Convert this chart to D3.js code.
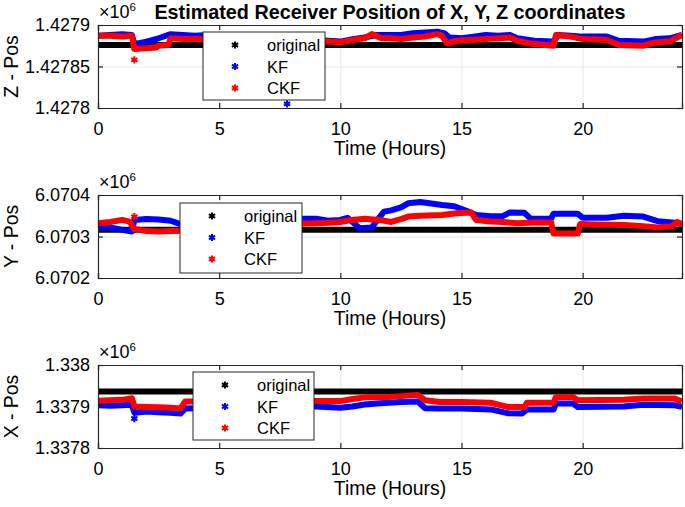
<!DOCTYPE html>
<html>
<head>
<meta charset="utf-8">
<script src="https://cdn.jsdelivr.net/npm/d3@7"></script>
<style>
body { margin: 0; background: #fff; }
text { font-family: "Liberation Sans", Arial, sans-serif; fill: #000; }
</style>
</head>
<body>
<script>
var WIDTH = 685, HEIGHT = 507;

var xTicks = [0, 5, 10, 15, 20];
var seriesNames = ['original', 'KF', 'CKF'];
var seriesColors = ['#000000', '#0000ff', '#ff0000'];

// Z panel (metres)
var zTicks = [1427800, 1427850, 1427900];
var zTickLabels = ['1.4278', '1.42785', '1.4279'];
var zOriginal = [[0, 1427876], [24.1, 1427876]];
var zKF = [[0,1427887],[0.5,1427888],[1.0,1427889],[1.4,1427888],[1.5,1427877],[2.0,1427880],[2.5,1427884],[3.0,1427889],[3.5,1427888],[4.0,1427887],[4.5,1427888],[5,1427886],[6,1427885],[7,1427884],[8,1427883],[9,1427882],[9.5,1427881],[10,1427880],[10.5,1427883],[11,1427885],[11.5,1427888],[12,1427888],[12.5,1427888],[13,1427890],[13.5,1427891],[14,1427892],[14.3,1427890],[14.5,1427885],[15,1427884],[15.5,1427886],[16,1427888],[16.5,1427887],[17,1427888],[17.3,1427884],[18,1427881],[18.8,1427880],[19,1427888],[19.5,1427887],[20,1427886],[21,1427886],[21.5,1427881],[22.5,1427880],[23,1427883],[23.6,1427884],[24.1,1427888]];
var zCKF = [[0,1427887],[0.5,1427887],[1.0,1427886],[1.4,1427887],[1.5,1427871],[2.0,1427872],[2.4,1427873],[2.5,1427875],[2.9,1427876],[3.0,1427884],[3.5,1427883],[4.0,1427883],[5,1427882],[6,1427881],[7,1427880],[8,1427880],[9,1427880],[9.5,1427880],[10,1427879],[10.5,1427882],[11,1427884],[11.3,1427889],[11.7,1427884],[12,1427884],[12.5,1427883],[13,1427885],[13.5,1427886],[14,1427889],[14.2,1427887],[14.4,1427878],[14.8,1427881],[15.5,1427882],[16,1427883],[16.6,1427884],[17,1427885],[17.3,1427881],[18,1427877],[18.8,1427875],[18.9,1427888],[19.5,1427886],[20,1427883],[21,1427882],[21.5,1427876],[22.5,1427875],[23,1427879],[23.6,1427880],[24.1,1427888]];
var zKFOut = [[7.8, 1427805]];
var zCKFOut = [[1.5, 1427858]];

// Y panel
var yTicks = [6070200, 6070300, 6070400];
var yTickLabels = ['6.0702', '6.0703', '6.0704'];
var yOriginal = [[0, 6070316], [24.1, 6070316]];
var yKF = [[0,6070320],[0.5,6070322],[1.0,6070316],[1.4,6070312],[1.5,6070340],[2.0,6070342],[2.5,6070341],[3.0,6070338],[3.4,6070330],[4,6070325],[5,6070322],[6,6070325],[7,6070330],[8,6070338],[8.5,6070343],[9,6070343],[9.5,6070338],[10,6070340],[10.3,6070345],[10.8,6070320],[11.3,6070322],[11.6,6070345],[11.8,6070360],[12.1,6070363],[12.5,6070370],[12.8,6070380],[13.3,6070383],[14.2,6070376],[14.7,6070373],[15.2,6070362],[15.6,6070352],[16.2,6070349],[16.7,6070349],[17.0,6070358],[17.6,6070357],[17.85,6070343],[18.7,6070343],[18.8,6070355],[19.8,6070355],[20.0,6070345],[21.0,6070345],[21.7,6070350],[22.5,6070348],[23.1,6070337],[23.8,6070333],[24.1,6070330]];
var yCKF = [[0,6070332],[0.5,6070335],[1.0,6070340],[1.3,6070336],[1.5,6070318],[2,6070313],[2.5,6070312],[3,6070313],[3.5,6070314],[4,6070316],[5,6070320],[6,6070324],[7,6070328],[8,6070331],[9,6070332],[9.5,6070333],[10,6070335],[10.5,6070340],[11,6070343],[11.6,6070340],[12.1,6070335],[12.5,6070342],[12.8,6070348],[13.3,6070350],[14.2,6070352],[14.8,6070356],[15.4,6070358],[15.6,6070340],[16.2,6070336],[16.7,6070335],[17.3,6070332],[18,6070334],[18.7,6070334],[18.8,6070307],[19.8,6070307],[19.9,6070330],[20.5,6070329],[21.7,6070328],[22.5,6070325],[23.1,6070322],[23.7,6070325],[23.9,6070335],[24.1,6070330]];
var yKFOut = [];
var yCKFOut = [[1.5, 6070348]];

// X panel
var xPosTicks = [1337800, 1337900, 1338000];
var xPosTickLabels = ['1.3378', '1.3379', '1.338'];
var xOriginal = [[0, 1337936], [24.1, 1337936]];
var xKF = [[0,1337903],[0.5,1337902],[1.0,1337903],[1.4,1337904],[1.5,1337885],[2,1337888],[2.5,1337886],[3,1337885],[3.4,1337883],[3.6,1337895],[4,1337896],[5,1337897],[6,1337898],[7,1337899],[8,1337900],[9,1337900],[10,1337897],[10.5,1337900],[11,1337905],[11.5,1337907],[12,1337909],[12.5,1337911],[13.2,1337912],[13.5,1337896],[14.1,1337895],[15,1337895],[16.2,1337893],[16.9,1337884],[17.5,1337883],[17.7,1337893],[18.8,1337893],[18.9,1337907],[19.6,1337907],[19.8,1337899],[21.7,1337900],[22.5,1337904],[23.8,1337903],[24.1,1337899]];
var xCKF = [[0,1337914],[0.5,1337915],[1,1337916],[1.4,1337920],[1.5,1337900],[2,1337899],[2.5,1337898],[3,1337897],[3.4,1337895],[3.6,1337912],[4,1337912],[5,1337912],[6,1337913],[7,1337913],[8,1337913],[9,1337913],[10,1337913],[10.5,1337918],[11,1337922],[12,1337923],[12.5,1337925],[13.2,1337928],[13.5,1337915],[14.1,1337911],[15,1337911],[16.2,1337909],[16.9,1337899],[17.6,1337899],[17.7,1337909],[18.8,1337909],[18.9,1337923],[19.6,1337923],[19.8,1337915],[21.7,1337916],[22.5,1337919],[23.8,1337919],[24.1,1337912]];
var xKFOut = [[1.5, 1337871]];
var xCKFOut = [];

var panels = [
    { top: 25, label: 'Z - Pos', ticks: zTicks, tickLabels: zTickLabels,
      series: [zOriginal, zKF, zCKF], outliers: [[], zKFOut, zCKFOut], legend: [203, 32, 122, 68] },
    { top: 195, label: 'Y - Pos', ticks: yTicks, tickLabels: yTickLabels,
      series: [yOriginal, yKF, yCKF], outliers: [[], yKFOut, yCKFOut], legend: [180, 203, 122, 70] },
    { top: 365, label: 'X - Pos', ticks: xPosTicks, tickLabels: xPosTickLabels,
      series: [xOriginal, xKF, xCKF], outliers: [[], xKFOut, xCKFOut], legend: [193, 372, 121, 68] }
];

var LEFT = 98, RIGHT = 682, PH = 83;
var FONT = '"Liberation Sans", Arial, sans-serif';

var svg = d3.select('body').append('svg')
    .attr('width', WIDTH)
    .attr('height', HEIGHT);

var x = d3.scaleLinear().domain([0, 24.1]).range([LEFT, RIGHT]);
var star = d3.symbol().type(d3.symbolAsterisk);

svg.append('text')
    .attr('x', (LEFT + RIGHT) / 2)
    .attr('y', 19)
    .attr('text-anchor', 'middle')
    .style('font-weight', 'bold')
    .style('font-size', '19.8px')
    .text('Estimated Receiver Position of X, Y, Z coordinates');

panels.forEach(drawPanel);

function drawPanel(p) {
    var y = d3.scaleLinear()
        .domain([p.ticks[0], p.ticks[2]])
        .range([p.top + PH, p.top]);
    var g = svg.append('g');

    // grid
    g.append('g')
        .attr('class', 'grid')
        .attr('transform', 'translate(0,' + (p.top + PH) + ')')
        .call(d3.axisBottom(x).tickValues(xTicks).tickSize(-PH).tickFormat(''))
        .call(s => s.select('.domain').remove());
    g.append('g')
        .attr('class', 'grid')
        .attr('transform', 'translate(' + LEFT + ',0)')
        .call(d3.axisLeft(y).tickValues(p.ticks).tickSize(-(RIGHT - LEFT)).tickFormat(''))
        .call(s => s.select('.domain').remove());
    g.selectAll('.grid line').attr('stroke', '#e8e8e8');

    var line = d3.line()
        .x(d => x(d[0]))
        .y(d => y(d[1]));

    p.series.forEach(function(data, i) {
        g.append('path')
            .datum(data)
            .attr('d', line)
            .attr('fill', 'none')
            .attr('stroke', seriesColors[i])
            .attr('stroke-width', 6)
            .attr('stroke-linejoin', 'round');
        g.selectAll(null)
            .data(p.outliers[i])
            .enter()
            .append('path')
            .attr('d', star.size(36))
            .attr('transform', d => 'translate(' + x(d[0]) + ',' + y(d[1]) + ')')
            .attr('fill', 'none')
            .attr('stroke', seriesColors[i])
            .attr('stroke-width', 2);
    });

    // axes with inward ticks
    var axes = g.append('g');
    var bottom = axes.append('g')
        .attr('transform', 'translate(0,' + (p.top + PH) + ')')
        .call(d3.axisBottom(x).tickValues(xTicks).tickSize(-5).tickPadding(14));
    var left = axes.append('g')
        .attr('transform', 'translate(' + LEFT + ',0)')
        .call(d3.axisLeft(y).tickValues(p.ticks).tickSize(-5).tickPadding(8)
            .tickFormat((d, i) => p.tickLabels[i]));
    axes.append('g')
        .attr('transform', 'translate(0,' + p.top + ')')
        .call(d3.axisTop(x).tickValues(xTicks).tickSize(-5).tickFormat(''));
    axes.append('g')
        .attr('transform', 'translate(' + RIGHT + ',0)')
        .call(d3.axisRight(y).tickValues(p.ticks).tickSize(-5).tickFormat(''));
    axes.selectAll('.domain, .tick line').attr('stroke', '#262626').attr('stroke-width', 1.2);
    axes.selectAll('text').style('font-size', '18px').attr('fill', '#000').style('font-family', FONT);

    g.append('text')
        .attr('x', (LEFT + RIGHT) / 2)
        .attr('y', p.top + PH + 47)
        .attr('text-anchor', 'middle')
        .style('font-size', '19.4px')
        .text('Time (Hours)');

    g.append('text')
        .attr('transform', 'translate(18,' + (p.top + PH / 2) + ') rotate(-90)')
        .attr('text-anchor', 'middle')
        .style('font-size', '19.4px')
        .text(p.label);

    var ex = g.append('text')
        .attr('x', LEFT + 1)
        .attr('y', p.top - 7)
        .style('font-size', '18px');
    ex.append('tspan').text('\u00d710');
    ex.append('tspan').attr('dy', -7.5).style('font-size', '11.5px').text('6');

    // legend
    var L = p.legend;
    var lg = g.append('g');
    lg.append('rect')
        .attr('x', L[0]).attr('y', L[1])
        .attr('width', L[2]).attr('height', L[3])
        .attr('fill', '#fff')
        .attr('stroke', '#262626')
        .attr('stroke-width', 1);
    seriesNames.forEach(function(name, i) {
        var ry = L[1] + 13 + i * 21.5;
        lg.append('path')
            .attr('d', star.size(36))
            .attr('transform', 'translate(' + (L[0] + 32) + ',' + ry + ')')
            .attr('fill', 'none')
            .attr('stroke', seriesColors[i])
            .attr('stroke-width', 2);
        lg.append('text')
            .attr('x', L[0] + 64)
            .attr('y', ry + 6)
            .style('font-size', '16.5px')
            .text(name);
    });
}
</script>
</body>
</html>
